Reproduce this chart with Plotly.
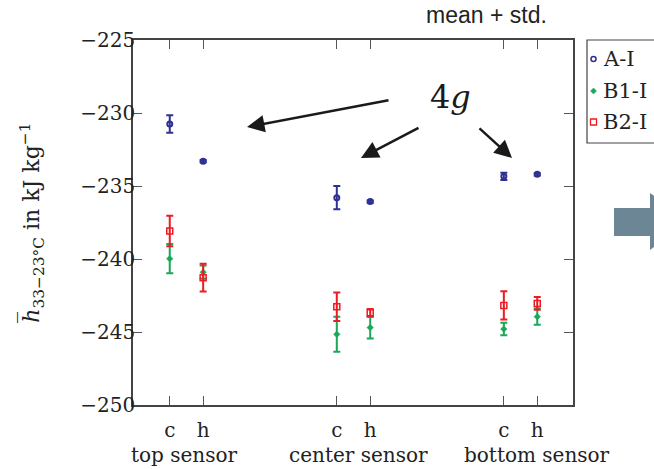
import plotly.graph_objects as go

groups = ["top sensor", "center sensor", "bottom sensor"]
x_pos = [0.9, 1.1, 1.9, 2.1, 2.9, 3.1]
tick_text = ["c", "h", "c", "h", "c", "h"]
series_names = ["A-I", "B1-I", "B2-I"]

a_mean = [-230.75, -233.3, -235.8, -236.07, -234.34, -234.2]
a_std = [0.6, 0.08, 0.8, 0.08, 0.25, 0.08]
b1_mean = [-239.98, -240.9, -245.16, -244.7, -244.8, -243.95]
b1_std = [1.0, 0.45, 1.2, 0.75, 0.43, 0.56]
b2_mean = [-238.08, -241.28, -243.27, -243.68, -243.18, -243.04]
b2_std = [1.05, 0.95, 0.97, 0.25, 0.97, 0.44]

y_ticks = [-250, -245, -240, -235, -230, -225]

BLUE = "#2e3192"
GREEN = "#1aa85a"
RED = "#ec1c24"
SERIF = "DejaVu Serif, serif"

# plot frame in page pixels
L, R, T, B = 133, 573, 40, 405
W, H = 654, 469

fig = go.Figure()

def add_series(name, y, e, color, symbol, size, lw):
    fig.add_trace(go.Scatter(
        x=x_pos, y=y, name=name, mode="markers", showlegend=False,
        marker=dict(symbol=symbol, size=size, color=color, line=dict(color=color, width=lw)),
        error_y=dict(type="data", array=e, color=color, thickness=2, width=3.5, visible=True),
    ))

add_series(series_names[0], a_mean, a_std, BLUE, "circle-open", 5, 2)
add_series(series_names[1], b1_mean, b1_std, GREEN, "diamond", 5, 0.5)
add_series(series_names[2], b2_mean, b2_std, RED, "square-open", 6, 1.5)

fig.update_xaxes(range=[0.68, 3.314], tickmode="array", tickvals=x_pos, ticktext=tick_text,
                 ticks="inside", ticklen=9, tickcolor="#555", mirror="ticks", automargin=False,
                 showline=True, linecolor="#444", linewidth=1.5, showgrid=False, zeroline=False,
                 ticklabelstandoff=6,
                 tickfont=dict(family=SERIF, size=20, color="#222"))
fig.update_yaxes(range=[-250, -225], tickmode="array", tickvals=y_ticks,
                 ticktext=["\u2212" + str(abs(v)) for v in y_ticks], automargin=False,
                 ticks="inside", ticklen=9, tickcolor="#555", mirror="ticks",
                 showline=True, linecolor="#444", linewidth=1.5, showgrid=False, zeroline=False,
                 ticklabelstandoff=-8,
                 tickfont=dict(family=SERIF, size=20, color="#222"))

def px(x):
    return (x - L) / (R - L)

def py(y):
    return (B - y) / (B - T)

def txt(x, y, text, size, family=SERIF, xanchor="center"):
    return dict(x=px(x), y=py(y), xref="paper", yref="paper", xanchor=xanchor, yanchor="middle",
                text=text, showarrow=False, font=dict(family=family, size=size, color="#222"))

annotations = []
label_px = [184, 358, 537]
for g, lx in zip(groups, label_px):
    annotations.append(txt(lx, 455, g, 20))

# y-axis title
ytitle = txt(32, 223, "<i>h\u0305</i><sub>33\u221223\u00b0C</sub> in kJ kg<sup>\u22121</sup>", 22)
ytitle["textangle"] = -90
annotations.append(ytitle)

arrows = [(247, 127, 390, 100), (361, 158, 420, 127), (512, 158, 478, 127)]
for tx, ty, sx, sy in arrows:
    annotations.append(dict(x=px(tx), y=py(ty), xref="paper", yref="paper",
                            ax=sx - tx, ay=sy - ty, text="",
                            showarrow=True, arrowhead=2, arrowsize=1.4, arrowwidth=2.5,
                            arrowcolor="#1a1a1a"))

a4 = txt(450, 97, "4<i>g</i>", 32)
a4["font"]["color"] = "#1a1a1a"
annotations.append(a4)
annotations.append(txt(486, 15, "mean + std.", 23, family="Liberation Sans, Arial, sans-serif"))

# manual legend (box clipped at right edge like the reference)
leg_y = [59, 91, 122]
for name, ly in zip(series_names, leg_y):
    annotations.append(txt(601, ly, name, 21, xanchor="left"))

shapes = [
    dict(type="rect", xref="paper", yref="paper", x0=px(587), x1=px(670), y0=py(40), y1=py(143),
         line=dict(color="#444", width=1.2), fillcolor="white", layer="below"),
    dict(type="circle", xref="paper", yref="paper", x0=px(591), x1=px(596), y0=py(61.5), y1=py(56.5),
         line=dict(color=BLUE, width=1.5)),
    dict(type="path", xref="paper", yref="paper",
         path="M {} {} L {} {} L {} {} L {} {} Z".format(px(593.5), py(88), px(596.5), py(91),
                                                         px(593.5), py(94), px(590.5), py(91)),
         fillcolor=GREEN, line=dict(color=GREEN, width=0.5)),
    dict(type="rect", xref="paper", yref="paper", x0=px(590.5), x1=px(596.5), y0=py(125), y1=py(119),
         line=dict(color=RED, width=1.3)),
]

arrow_path = "M {} {} L {} {} L {} {} L {} {} L {} {} L {} {} L {} {} Z".format(
    px(614), py(208), px(650), py(208), px(650), py(193), px(690), py(221),
    px(650), py(250), px(650), py(236), px(614), py(236))
shapes.append(dict(type="path", path=arrow_path, xref="paper", yref="paper",
                   fillcolor="#6d8696", line=dict(width=0), layer="above"))

fig.update_layout(
    width=W, height=H,
    margin=dict(l=L, r=W - R, t=T, b=H - B, autoexpand=False),
    paper_bgcolor="white", plot_bgcolor="white",
    annotations=annotations,
    shapes=shapes,
    showlegend=False,
)

fig.write_html("out.html", config={"displayModeBar": False},
               post_script="document.body.style.margin='0';document.body.style.overflow='hidden';")
